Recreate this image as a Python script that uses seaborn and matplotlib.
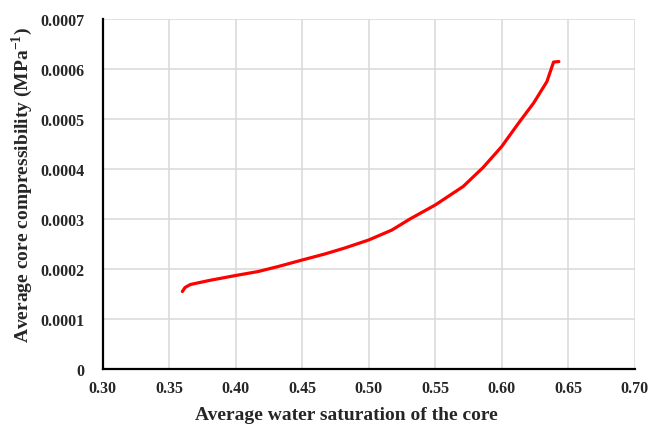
import matplotlib
matplotlib.use("Agg")
import matplotlib.pyplot as plt
import seaborn as sns
import pandas as pd

# Data
saturation = [0.360, 0.362, 0.366, 0.380, 0.392, 0.400, 0.417, 0.432, 0.450, 0.467,
              0.482, 0.500, 0.5175, 0.531, 0.550, 0.571, 0.586, 0.600, 0.613, 0.624,
              0.634, 0.639, 0.643]
compressibility = [0.000155, 0.000163, 0.000169, 0.000177, 0.000183, 0.000187,
                   0.000195, 0.000205, 0.000218, 0.000230, 0.000242, 0.000258,
                   0.000278, 0.000300, 0.000328, 0.000365, 0.000403, 0.000445,
                   0.000493, 0.000532, 0.000575, 0.000614, 0.000615]
x_ticks = [0.30, 0.35, 0.40, 0.45, 0.50, 0.55, 0.60, 0.65, 0.70]
x_tick_labels = ["0.30", "0.35", "0.40", "0.45", "0.50", "0.55", "0.60", "0.65", "0.70"]
y_ticks = [0, 0.0001, 0.0002, 0.0003, 0.0004, 0.0005, 0.0006, 0.0007]
y_tick_labels = ["0", "0.0001", "0.0002", "0.0003", "0.0004", "0.0005", "0.0006", "0.0007"]

sns.set_style("white")
plt.rcParams["font.family"] = ["Liberation Serif", "DejaVu Serif"]
plt.rcParams["mathtext.fontset"] = "custom"
plt.rcParams["mathtext.rm"] = "Liberation Serif"
plt.rcParams["mathtext.bf"] = "Liberation Serif:bold"

df = pd.DataFrame({"Sw": saturation, "C": compressibility})

fig = plt.figure(figsize=(6.49, 4.27), dpi=100)
ax = fig.add_axes([0.158, 0.1335, 0.820, 0.8195])

sns.lineplot(data=df, x="Sw", y="C", sort=False, color="#ff0000", linewidth=2.3, ax=ax)

ax.set_xlim(0.30, 0.70)
ax.set_ylim(0, 0.0007)
ax.set_xticks(x_ticks)
ax.set_xticklabels(x_tick_labels, fontsize=11.5, fontweight="bold")
ax.set_yticks(y_ticks)
ax.set_yticklabels(y_tick_labels, fontsize=11.5, fontweight="bold")

ax.grid(True, color="#d9d9d9", linewidth=1.1)
ax.set_axisbelow(True)
for s in ["top", "right"]:
    ax.spines[s].set_visible(False)
for s in ["left", "bottom"]:
    ax.spines[s].set_color("black")
    ax.spines[s].set_linewidth(1.6)
ax.tick_params(axis="both", direction="in", length=4, width=1.4, color="black")
ax.tick_params(axis="x", pad=8)
ax.tick_params(axis="y", pad=13)

ax.set_xlabel("Average water saturation of the core", fontsize=14, fontweight="bold", labelpad=7)
ax.set_ylabel("Average core compressibility (MPa$^{\\mathbf{-1}}$)", fontsize=14,
              fontweight="bold", labelpad=4)
ax.xaxis.label.set_x(0.458)
ax.yaxis.label.set_y(0.53)

fig.savefig("out.png", dpi=100, facecolor="white")
